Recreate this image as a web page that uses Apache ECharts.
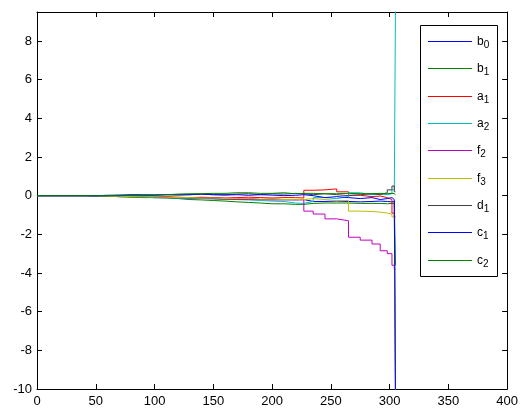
<!DOCTYPE html>
<html><head><meta charset="utf-8">
<script src="https://cdn.jsdelivr.net/npm/echarts@6/dist/echarts.min.js"></script>
<style>html,body{margin:0;padding:0;background:#fff}#c{width:521px;height:408px}</style>
</head><body><div id="c"></div>
<script>
const xs = [0,10,20,30,40,50,60,70,80,90,100,110,120,130,140,150,160,170,180,190,200,210,220,227,235,245,255,265,275,285,292,298,302,304,305];
const b0 = [0,0,0,0,-0.02,-0.03,-0.05,-0.05,-0.08,-0.1,-0.1,-0.12,-0.15,-0.1,-0.12,-0.15,-0.18,-0.15,-0.2,-0.18,-0.2,-0.22,-0.2,-0.3,-0.3,-0.28,-0.3,-0.32,-0.3,-0.28,-0.3,-0.32,-0.3,-0.3,-10.5];
const b1 = [0,0,0,0,0,-0.02,-0.05,-0.08,-0.1,-0.1,-0.12,-0.15,-0.2,-0.22,-0.25,-0.28,-0.32,-0.35,-0.38,-0.42,-0.42,-0.45,-0.45,-0.4,-0.38,-0.38,-0.38,-0.4,-0.4,-0.4,-0.42,-0.4,-0.4,-0.4,-3.6];
const a1 = [0,0,0,0,0,0,-0.02,-0.03,-0.05,-0.05,-0.05,-0.08,-0.1,-0.08,-0.1,-0.12,-0.1,-0.08,-0.1,-0.12,-0.1,-0.1,-0.12,0.28,0.3,0.35,0.2,0.02,-0.05,-0.02,-0.1,-0.2,-0.9,-1.1,-1.1];
const a2 = [0,0,0,0,0,-0.02,-0.05,-0.05,-0.08,-0.1,-0.1,-0.12,-0.15,-0.15,-0.18,-0.2,-0.2,-0.22,-0.25,-0.28,-0.3,-0.38,-0.4,-0.3,-0.1,-0.15,-0.05,0.15,0.05,0.1,0.05,0.1,0.3,0.4,10];
const f2 = [0,0,0,0,0,0,-0.02,-0.03,-0.05,-0.05,-0.08,-0.1,-0.12,-0.12,-0.15,-0.18,-0.2,-0.2,-0.2,-0.22,-0.22,-0.2,-0.22,-0.8,-0.95,-1.2,-1.3,-2.15,-2.3,-2.5,-2.85,-3.0,-3.6,-3.8,-3.8];
const f3 = [0,0,0,0,0,-0.02,-0.03,-0.05,-0.05,-0.05,-0.08,-0.1,-0.1,-0.12,-0.12,-0.15,-0.15,-0.15,-0.18,-0.18,-0.2,-0.2,-0.2,-0.15,-0.2,-0.25,-0.25,-0.8,-0.82,-0.85,-0.9,-0.95,-1.1,-1.2,-10.5];
const d1 = [0,0,0,0,0,0,0,0.02,0,0.02,0.05,0.03,0.05,0.08,0.05,0.05,0.08,0.1,0.05,0.1,0.08,0.12,0.1,0.05,0.1,0.05,0,0.05,0.1,0.05,0.15,0.3,0.5,0.2,0.2];
const c1 = [0,0,0,0,0,0.02,0.03,0.05,0.05,0.03,0.05,0.05,0.05,0.08,0.05,0.03,0.05,0.02,0.05,0.03,0,0.02,0.05,0,-0.1,-0.05,-0.1,-0.15,-0.1,-0.2,-0.15,-0.1,-0.2,-0.25,-10.5];
const c2 = [0,0,0,0,0,0,0.02,0.02,0.03,0.05,0.05,0.08,0.1,0.1,0.12,0.12,0.15,0.15,0.12,0.12,0.15,0.1,0.12,0.12,0.1,0.1,0.12,0.1,0.1,0.12,0.1,0.12,0.1,0.05,0.05];
const names = ['b0','b1','a1','a2','f2','f3','d1','c1','c2'];
const labels = ['{a|b}{s|0}','{a|b}{s|1}','{a|a}{s|1}','{a|a}{s|2}','{a|f}{s|2}','{a|f}{s|3}','{a|d}{s|1}','{a|c}{s|1}','{a|c}{s|2}'];
const values = [b0,b1,a1,a2,f2,f3,d1,c1,c2];
const colors = ['#0000ff','#008000','#ff0000','#00bfbf','#bf00bf','#bfbf00','#404040','#0000ff','#008000'];
const xTicks = {min:0,max:400,interval:50};
const yTicks = {min:-10,max:9.5,interval:2};

const font = '"Liberation Sans", Arial, sans-serif';
const chart = echarts.init(document.getElementById('c'), null, {renderer:'canvas'});
const axBase = {axisLine:{show:true,onZero:false,lineStyle:{color:'#000',width:1}},axisTick:{show:true,inside:true,length:5,lineStyle:{color:'#000'}},splitLine:{show:false}};
const legendRowsY = [41,68,96,123,150,178,205,232,260];
const legends = names.map(function(n,i){
  return {
    orient:'vertical',left:428,top:legendRowsY[i]-9,z:5,
    padding:0,itemGap:0,itemWidth:44,itemHeight:20,
    icon:'path://M0,9H44V10H0Z M0,0H0.01V20H0Z',
    data:[n],
    formatter:function(nm){return labels[names.indexOf(nm)];},
    textStyle:{color:'#000',fontFamily:font,padding:[0,0,0,0],
      rich:{a:{fontSize:12,fontFamily:font,color:'#000',lineHeight:16,verticalAlign:'middle'},
            s:{fontSize:10,fontFamily:font,color:'#000',lineHeight:6,verticalAlign:'bottom'}}}
  };
});
chart.setOption({
  animation:false,
  backgroundColor:'#fff',
  color:colors,
  grid:{left:37,top:12,right:8,bottom:19,containLabel:false},
  xAxis:[
    Object.assign({type:'value',position:'bottom',min:xTicks.min,max:xTicks.max,interval:xTicks.interval,
      axisLabel:{color:'#000',fontFamily:font,fontSize:13,margin:6}},axBase),
    Object.assign({type:'value',position:'top',min:xTicks.min,max:xTicks.max,interval:xTicks.interval,axisLabel:{show:false}},axBase)
  ],
  yAxis:[
    Object.assign({type:'value',position:'left',min:yTicks.min,max:yTicks.max,interval:yTicks.interval,
      axisLabel:{color:'#000',fontFamily:font,fontSize:13,margin:5,showMaxLabel:false}},axBase),
    Object.assign({type:'value',position:'right',min:yTicks.min,max:yTicks.max,interval:yTicks.interval,axisLabel:{show:false}},axBase)
  ],
  graphic:[{type:'rect',z:4,shape:{x:420.5,y:25.5,width:77,height:251},
    style:{fill:'#fff',stroke:'#000',lineWidth:1}}],
  legend:legends,
  series:names.map(function(n,i){
    return {name:n,type:'line',step:'end',symbol:'none',showSymbol:false,clip:true,
      lineStyle:{width:1,color:colors[i]},itemStyle:{color:colors[i]},
      data:xs.map(function(x,j){return [x,values[i][j]];})};
  })
});
</script></body></html>
